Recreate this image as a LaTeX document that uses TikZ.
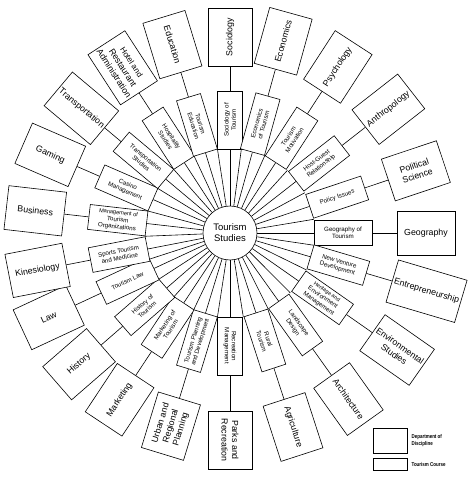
\documentclass[tikz,border=0pt]{standalone}
\usepackage{fontspec}
\setmainfont{Liberation Sans}
\newfontfamily\keyfont[FakeStretch=0.8]{Liberation Sans}
\usetikzlibrary{positioning}

\begin{document}
\begin{tikzpicture}[x=1pt,y=1pt,line width=0.6pt,
    hub/.style={draw,circle,minimum size=54pt,inner sep=0pt,align=center,
      font=\fontsize{9.5}{11}\selectfont},
    course/.style={draw,fill=white,minimum width=58pt,minimum height=25pt,
      inner sep=1.2pt,align=center,font=\fontsize{6.2}{7.2}\selectfont},
    discipline/.style={draw,fill=white,minimum width=58pt,minimum height=44pt,
      inner sep=2pt,align=center,font=\fontsize{8.8}{10.5}\selectfont},
    keybox/.style={draw,inner sep=0pt,minimum width=34pt},
    keytext/.style={inner sep=0pt,align=left,font=\keyfont\bfseries\fontsize{5.6}{7}\selectfont}]
  \useasboundingbox (-230,-247) rectangle (241,233);

  \node[hub] (ts) at (0,0) {Tourism\\Studies};

  % spokes between the courses
  \foreach \k/\m in {1/82.3,2/65.8,3/47.5,4/28.3,5/9.3,6/-8.3,7/-25.8,8/-44.8,
      9/-63.3,10/-81,11/-98.5,12/-115.3,13/-131.3,14/-147,15/-162,16/182.2,
      17/165,18/148.3,19/131.5,20/115,21/98.5}{
    \coordinate (g\k) at (\m:85pt);
    \draw (ts.\m) -- (g\k);
  }

  % course and discipline of each spoke
  \foreach \i/\a/\r/\crs/\dsc in {
      1/90/196/Sociology of\\Tourism/Sociology,
      2/74.5/199/Economics\\of Tourism/Economics,
      3/57/198/Tourism\\Motivation/Psychology,
      4/38/201/Host-Guest\\Relationship/Anthropology,
      5/18.5/196/Policy Issues/Political\\Science,
      6/0/196/Geography of\\Tourism/Geography,
      7/-16.5/205/New Venture\\Development/Entrepreneurship,
      8/-35/204/{\fontsize{5.4}{6}\selectfont Heritage and\\Environment\\Management}/Environmental\\Studies,
      9/-54.5/204/Landscape\\Design/Architecture,
      10/-72/204/Rural\\Tourism/Agriculture,
      11/-90/207/Recreation\\Management/Parks and\\Recreation,
      12/-107/202/Tourism Planning\\and Development/Urban and\\Regional\\Planning,
      13/-123.5/200/Marketing of\\Tourism/Marketing,
      14/-139/200/History of\\Tourism/History,
      15/-155/200/Tourism Law/Law,
      16/-169/196/Sports Tourism\\and Medicine/Kinesiology,
      17/173.5/196/{\fontsize{5.6}{6.4}\selectfont Management of\\Tourism\\Organizations}/Business,
      18/156.5/196/Casino\\Management/Gaming,
      19/140/194/Transportation\\Studies/Transportation,
      20/123/197/Hospitality\\Studies/{\fontsize{8}{9.5}\selectfont Hotel and\\Restaurant\\Administration},
      21/107/197/Tourism\\Education/Education}{
    \pgfmathsetmacro\rot{abs(\a)>90 ? \a+180 : \a}
    \node[course,rotate=\rot] (c\i) at (\a:113pt) {\crs};
    \node[discipline,rotate=\rot] (d\i) at (\a:\r pt) {\dsc};
    \draw (ts) -- (c\i);
    \draw (c\i) -- (d\i);
  }

  % key
  \node[keybox,minimum height=25pt] (key1) at (160,-207.5) {};
  \node[keybox,minimum height=12pt] (key2) at (160,-231) {};
  \node[keytext,right=4pt of key1] (lab1) {Department of\\Discipline};
  \node[keytext,right=4pt of key2] (lab2) {Tourism Course};
\end{tikzpicture}
\end{document}
